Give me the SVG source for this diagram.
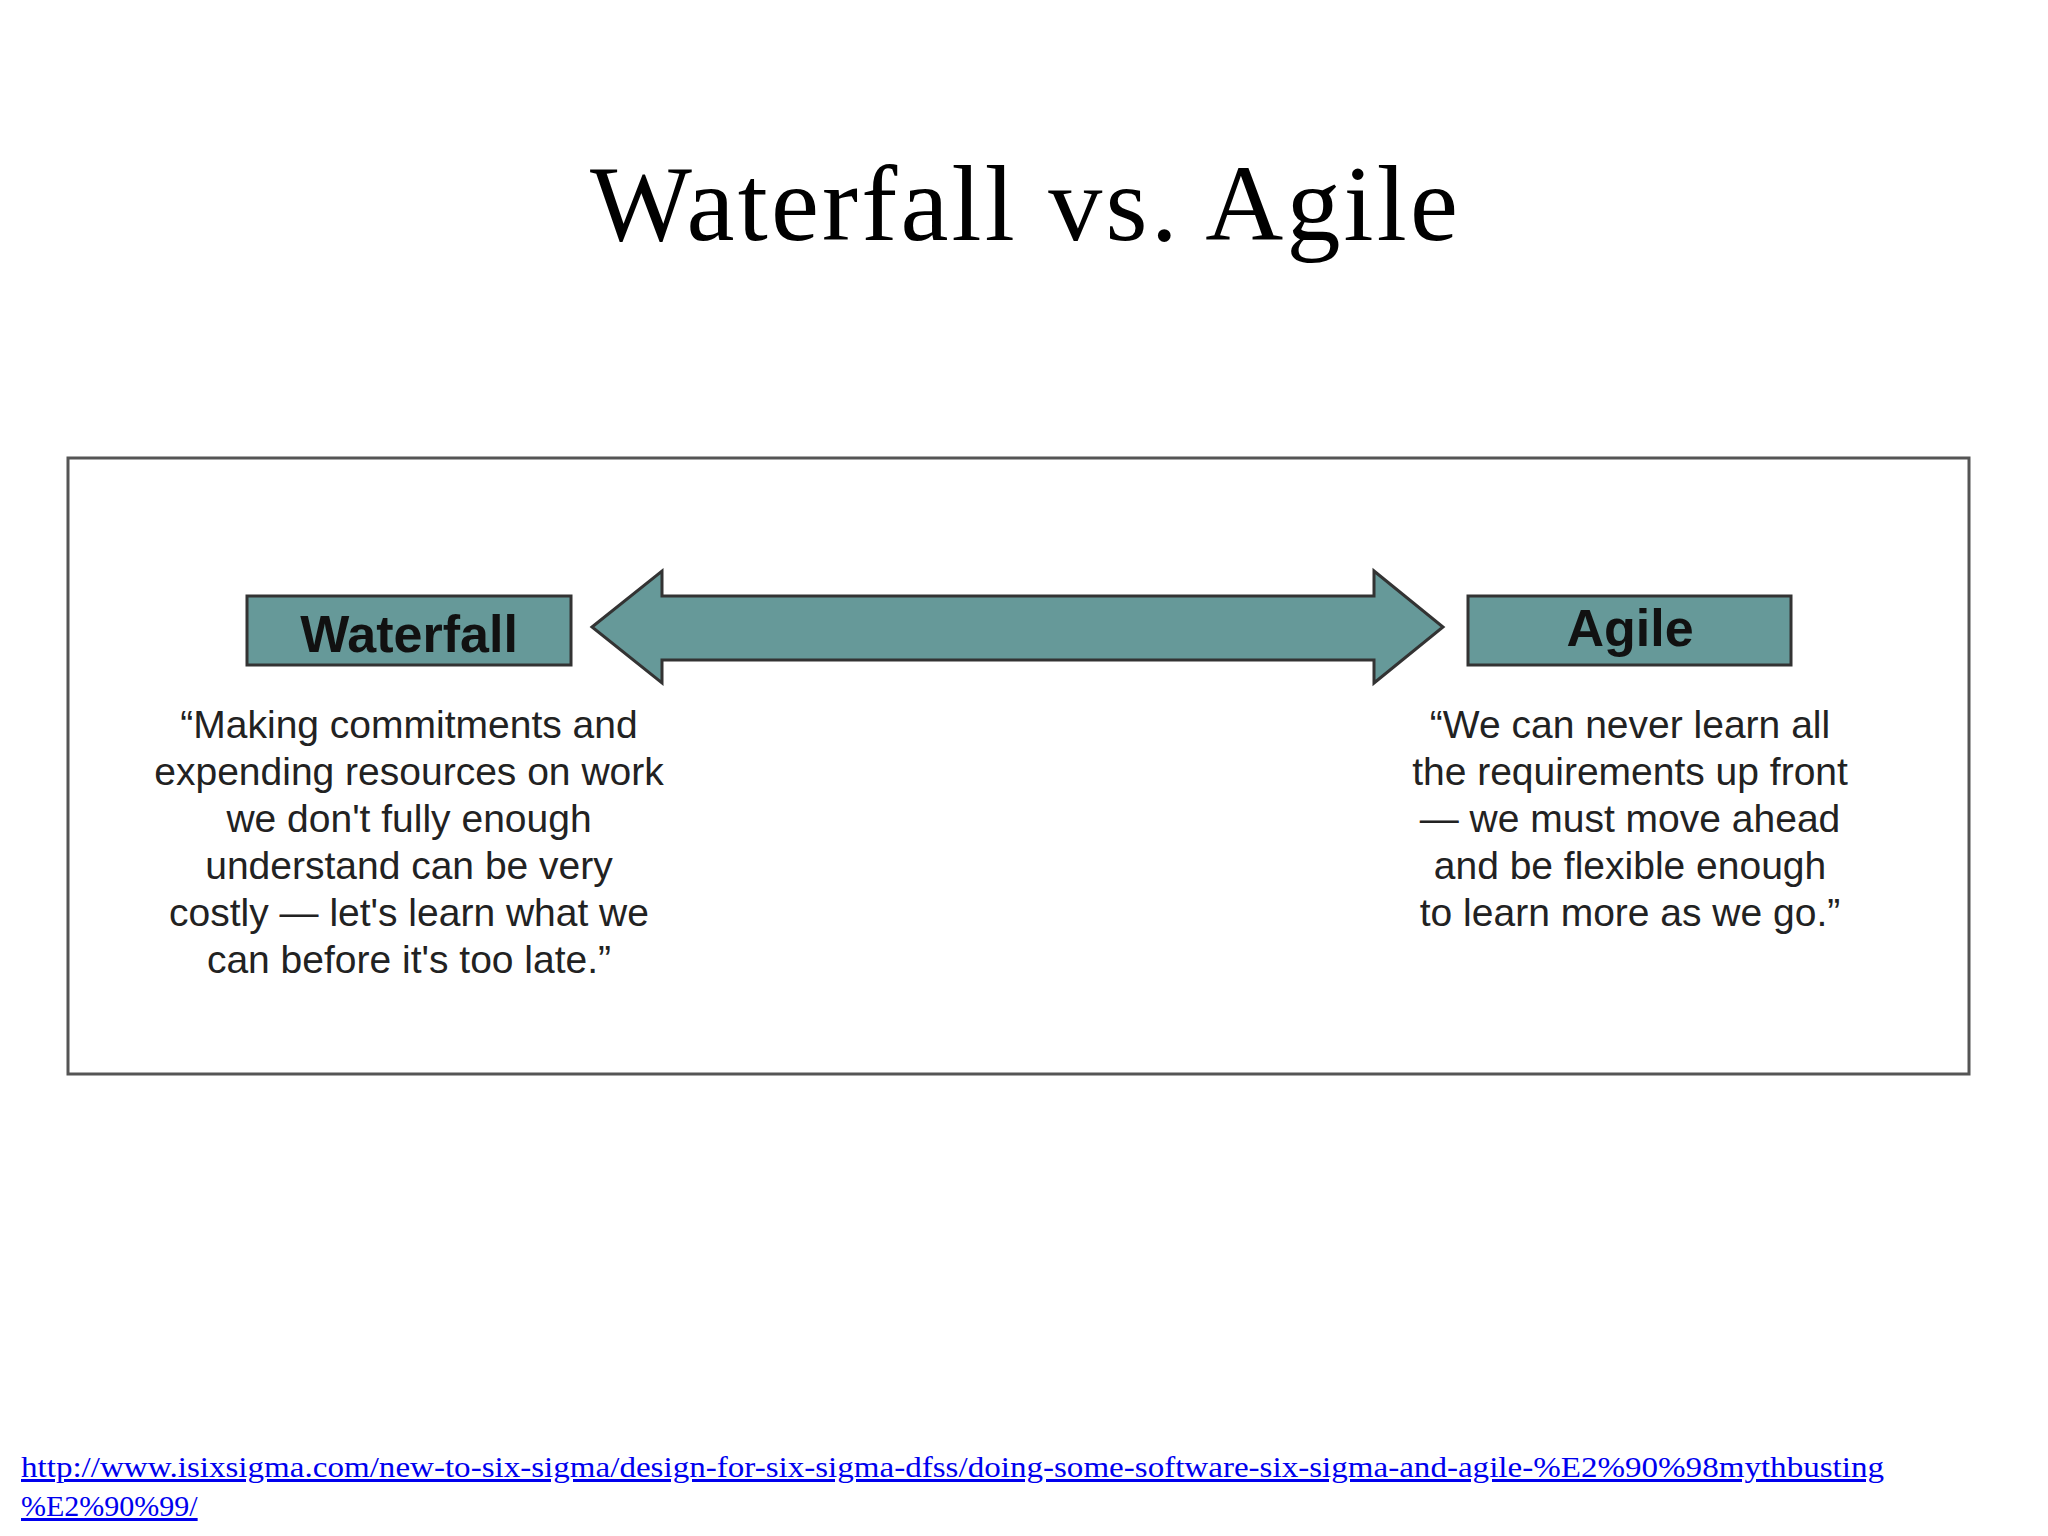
<svg xmlns="http://www.w3.org/2000/svg" width="2048" height="1536" viewBox="0 0 2048 1536">
<style>
.q{font-family:"Liberation Sans",Arial,sans-serif;font-size:39px;fill:#222;text-anchor:middle}
.box{fill:#669999;stroke:#333;stroke-width:3}
.lbl{font-family:"Liberation Sans",Arial,sans-serif;font-weight:bold;font-size:52px;fill:#111;text-anchor:middle}
.link{font-family:"Liberation Serif","Times New Roman",serif;font-size:30px;fill:#0000ee;text-decoration:underline}
</style>
<rect width="2048" height="1536" fill="#fff"/>
<text x="1024" y="240" text-anchor="middle" font-family="Liberation Serif,serif" font-size="108" fill="#000" textLength="868" lengthAdjust="spacing">Waterfall vs. Agile</text>
<rect x="68" y="458" width="1901" height="616" fill="#fff" stroke="#555" stroke-width="3"/>
<g id="connectors">
<polygon class="box" points="592,627 662,571 662,596 1374,596 1374,571 1443,627 1374,683 1374,660 662,660 662,683"/>
</g>
<g id="waterfall">
<rect class="box" x="247" y="596" width="324" height="69"/>
<text class="lbl" x="409" y="652">Waterfall</text>
<text class="q" x="409" y="738">“Making commitments and</text>
<text class="q" x="409" y="785">expending resources on work</text>
<text class="q" x="409" y="832">we don't fully enough</text>
<text class="q" x="409" y="879">understand can be very</text>
<text class="q" x="409" y="926">costly — let's learn what we</text>
<text class="q" x="409" y="973">can before it's too late.”</text>
</g>
<g id="agile">
<rect class="box" x="1468" y="596" width="323" height="69"/>
<text class="lbl" x="1630" y="646">Agile</text>
<text class="q" x="1630" y="738">“We can never learn all</text>
<text class="q" x="1630" y="785">the requirements up front</text>
<text class="q" x="1630" y="832">— we must move ahead</text>
<text class="q" x="1630" y="879">and be flexible enough</text>
<text class="q" x="1630" y="926">to learn more as we go.”</text>
</g>
<text class="link" x="21" y="1477" textLength="1863" lengthAdjust="spacingAndGlyphs">http://www.isixsigma.com/new-to-six-sigma/design-for-six-sigma-dfss/doing-some-software-six-sigma-and-agile-%E2%90%98mythbusting</text>
<text class="link" x="21" y="1516">%E2%90%99/</text>
</svg>
